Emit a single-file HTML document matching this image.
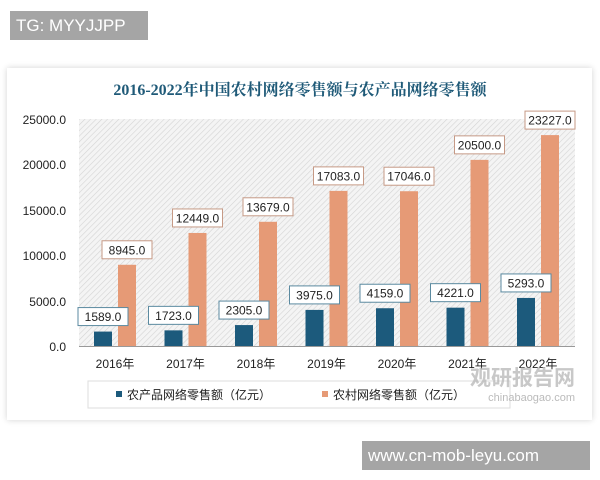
<!DOCTYPE html>
<html><head><meta charset="utf-8"><style>
body{margin:0;width:600px;height:480px;background:#fff;position:relative;overflow:hidden;font-family:"Liberation Sans","Noto Sans CJK SC",sans-serif}
.tg{position:absolute;left:10px;top:11px;width:138px;height:29px;background:#a5a5a5;color:#fff;font-size:17px;line-height:29px;padding-left:6px;box-sizing:border-box}
.wm{position:absolute;left:362px;top:441px;width:228px;height:29px;background:#a5a5a5;color:#fff;font-size:17px;line-height:29px;padding-left:6px;box-sizing:border-box}
.card{position:absolute;left:7px;top:68px;width:585px;height:352px;background:#fff;box-shadow:0 0 6px rgba(0,0,0,.18)}
</style></head><body>
<div class="tg">TG: MYYJJPP</div>
<div class="card"></div>
<svg style="position:absolute;left:0;top:0" width="600" height="480">
<defs><pattern id="h" width="4" height="4" patternUnits="userSpaceOnUse" patternTransform="rotate(45)"><rect width="4" height="4" fill="#f4f4f4"/><line x1="0" y1="0" x2="0" y2="4" stroke="#d4d4d4" stroke-width="1.2"/></pattern></defs>
<text x="300" y="95" text-anchor="middle" font-size="16" font-weight="bold" fill="#1f5a78" font-family="Liberation Serif,Noto Serif CJK SC,serif">2016-2022年中国农村网络零售额与农产品网络零售额</text>
<rect x="79" y="119" width="496" height="227" fill="url(#h)"/>
<line x1="79" y1="346.5" x2="575" y2="346.5" stroke="#999"/>
<g font-size="12" fill="#222" text-anchor="end">
<text x="66" y="124">25000.0</text><text x="66" y="169">20000.0</text><text x="66" y="215">15000.0</text><text x="66" y="260">10000.0</text><text x="66" y="306">5000.0</text><text x="66" y="351">0.0</text></g>
<g id="bars"></g>
</svg>
<script>
var b=[1589,1723,2305,3975,4159,4221,5293],o=[8945,12449,13679,17083,17046,20500,23227];
var s='',k=227/25000;
for(var i=0;i<7;i++){var x=94+i*70.5;
var hb=b[i]*k,ho=o[i]*k;
s+='<rect x="'+x+'" y="'+(346-hb)+'" width="18" height="'+hb+'" fill="#1c5a7c"/>';
s+='<rect x="'+(x+24)+'" y="'+(346-ho)+'" width="18" height="'+ho+'" fill="#e69a76"/>';
var ly=346-ho-24;
s+='<rect x="'+(x+8)+'" y="'+ly+'" width="50" height="18" fill="#fff" stroke="#c69a86"/>';
s+='<text x="'+(x+33)+'" y="'+(ly+13.5)+'" text-anchor="middle" font-size="12" fill="#222">'+o[i].toFixed(1)+'</text>';
var by=Math.min(346-hb-24,346-ho-24>0?346-hb-24:0);
s+='<rect x="'+(x-16)+'" y="'+by+'" width="50" height="18" fill="#fff" stroke="#5b8aa0"/>';
s+='<text x="'+(x+9)+'" y="'+(by+13.5)+'" text-anchor="middle" font-size="12" fill="#222">'+b[i].toFixed(1)+'</text>';
s+='<text x="'+(x+21)+'" y="368" text-anchor="middle" font-size="12" fill="#222">'+(2016+i)+'年</text>';}
s+='<rect x="88" y="381" width="422" height="27" fill="#fff" stroke="#ddd"/>';
s+='<rect x="116" y="391" width="6" height="6" fill="#1c5a7c"/><text x="127" y="399" font-size="12" fill="#222">农产品网络零售额（亿元）</text>';
s+='<rect x="322" y="391" width="6" height="6" fill="#e69a76"/><text x="333" y="399" font-size="12" fill="#222">农村网络零售额（亿元）</text>';
s+='<text x="575" y="385" text-anchor="end" font-size="21" font-weight="bold" fill="#bbb" opacity=".8">观研报告网</text>';
s+='<text x="575" y="401" text-anchor="end" font-size="11" fill="#bbb">chinabaogao.com</text>';
document.getElementById('bars').innerHTML=s;
</script>
<div class="wm">www.cn-mob-leyu.com</div>
</body></html>
